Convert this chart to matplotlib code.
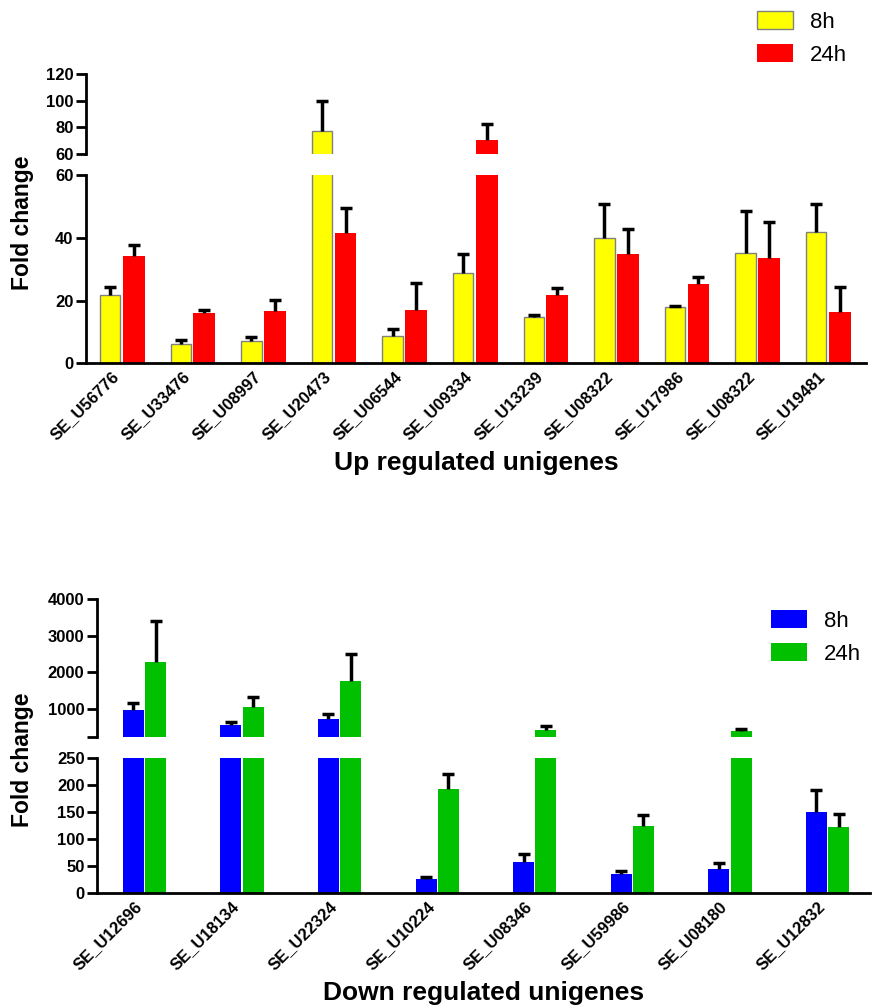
import numpy as np
import matplotlib
matplotlib.use("Agg")
from matplotlib import pyplot as plt

plt.rcParams['font.family'] = ['Liberation Sans', 'DejaVu Sans']

# up regulated unigenes
up_genes = ['SE_U56776', 'SE_U33476', 'SE_U08997', 'SE_U20473', 'SE_U06544', 'SE_U09334',
            'SE_U13239', 'SE_U08322', 'SE_U17986', 'SE_U08322', 'SE_U19481']
up_8h = np.array([21.9, 6.3, 7.1, 77.3, 8.8, 28.7, 14.7, 40.0, 18.0, 35.1, 41.8])
up_8h_err = np.array([2.5, 1.2, 1.4, 22.7, 2.3, 6.1, 0.7, 10.8, 0.4, 13.4, 9.0])
up_24h = np.array([34.3, 16.1, 16.8, 41.6, 16.9, 70.5, 21.9, 35.0, 25.2, 33.5, 16.4])
up_24h_err = np.array([3.6, 0.9, 3.4, 8.1, 8.8, 11.8, 2.1, 7.8, 2.4, 11.7, 8.0])

# down regulated unigenes
down_genes = ['SE_U12696', 'SE_U18134', 'SE_U22324', 'SE_U10224', 'SE_U08346', 'SE_U59986',
              'SE_U08180', 'SE_U12832']
down_8h = np.array([975, 566, 724, 26.5, 57.4, 36.4, 45.6, 150.6])
down_8h_err = np.array([185, 74, 136, 4.2, 14.6, 4.9, 10.4, 40.4])
down_24h = np.array([2293, 1050, 1775, 193, 433, 124.6, 397, 122])
down_24h_err = np.array([1116, 273, 719, 28, 117, 21, 71, 25])

W, H = 873, 1006
fig = plt.figure(figsize=(W / 100, H / 100), dpi=100)


def px_axes(x0, x1, ytop, ybot):
    return fig.add_axes([x0 / W, 1 - ybot / H, (x1 - x0) / W, (ybot - ytop) / H])


def style(ax, bottom=True):
    ax.spines['top'].set_visible(False)
    ax.spines['right'].set_visible(False)
    ax.spines['left'].set_linewidth(2.0)
    ax.spines['bottom'].set_linewidth(2.0)
    ax.tick_params(axis='y', length=7, width=2.0, labelsize=12, pad=2)
    ax.tick_params(axis='x', length=0, labelsize=12, pad=4)
    for lab in ax.get_yticklabels():
        lab.set_fontweight('bold')
    if not bottom:
        ax.spines['bottom'].set_visible(False)
        ax.set_xticks([])


def draw_bars(ax, x, vals, errs, color, edge, width):
    bars = ax.bar(x, vals, width=width, color=color, edgecolor=edge,
                  linewidth=1.0 if edge != color else 0)
    tops = vals + errs
    lo, hi = ax.get_ylim()
    keep = (tops > lo) & (vals < hi)
    ax.vlines(x[keep], vals[keep], tops[keep], colors='k', linewidth=2.5)
    keep = (tops > lo) & (tops < hi)
    ax.plot(x[keep], tops[keep], ls='none', marker='_', ms=9, mew=2.5, color='k')
    return bars


def add_legend(ax, handles, x0, ytop):
    ax.legend(handles, ['8h', '24h'], loc='upper left', bbox_to_anchor=(x0 / W, 1 - ytop / H),
              bbox_transform=fig.transFigure, frameon=False, fontsize=16, borderpad=0,
              borderaxespad=0, handlelength=1.6, handleheight=0.9, handletextpad=0.8,
              labelspacing=0.5)


# ---------- top chart ----------
xu = np.arange(len(up_genes))
top_hi = px_axes(86, 866, 74, 154)
top_lo = px_axes(86, 866, 175.3, 363.3)
top_hi.set_ylim(60, 120)
top_lo.set_ylim(0, 60)
for ax in (top_hi, top_lo):
    b8 = draw_bars(ax, xu - 0.167, up_8h, up_8h_err, '#ffff00', '#808080', 0.29)
    b24 = draw_bars(ax, xu + 0.167, up_24h, up_24h_err, '#ff0000', '#ff0000', 0.31)
    ax.set_xlim(-0.51, 10.54)
top_hi.set_ylim(60, 120)
top_hi.set_yticks([60, 80, 100, 120])
top_lo.set_ylim(0, 60)
top_lo.set_yticks([0, 20, 40, 60])
top_lo.set_xticks(xu)
top_lo.set_xticklabels(up_genes, rotation=45, ha='right', fontweight='bold')
style(top_hi, bottom=False)
style(top_lo)
top_lo.set_xlabel('Up regulated unigenes', fontsize=19, fontweight='bold', labelpad=6)
fig.text(22 / W, 1 - 223 / H, 'Fold change', rotation=90, fontsize=16.5, fontweight='bold',
         ha='center', va='center')
add_legend(top_lo, [b8, b24], 757, 11)

# ---------- bottom chart ----------
xd = np.arange(len(down_genes))
bot_hi = px_axes(97, 870, 599, 736.7)
bot_lo = px_axes(97, 870, 758.3, 893.3)
bot_hi.set_ylim(250, 4000)
bot_lo.set_ylim(0, 250)
for ax in (bot_hi, bot_lo):
    d8 = draw_bars(ax, xd - 0.114, down_8h, down_8h_err, '#0000ff', '#0000ff', 0.215)
    d24 = draw_bars(ax, xd + 0.114, down_24h, down_24h_err, '#00c000', '#00c000', 0.215)
    ax.set_xlim(-0.486, 7.435)
bot_hi.set_ylim(250, 4000)
bot_hi.set_yticks([250, 1000, 2000, 3000, 4000])
bot_hi.set_yticklabels(['', '1000', '2000', '3000', '4000'])
bot_lo.set_ylim(0, 250)
bot_lo.set_yticks([0, 50, 100, 150, 200, 250])
bot_lo.set_xticks(xd)
bot_lo.set_xticklabels(down_genes, rotation=45, ha='right', fontweight='bold')
style(bot_hi, bottom=False)
style(bot_lo)
bot_lo.set_xlabel('Down regulated unigenes', fontsize=19, fontweight='bold', labelpad=6)
fig.text(22 / W, 1 - 760 / H, 'Fold change', rotation=90, fontsize=16.5, fontweight='bold',
         ha='center', va='center')
add_legend(bot_hi, [d8, d24], 771, 610)

fig.savefig('out.png', dpi=100)
